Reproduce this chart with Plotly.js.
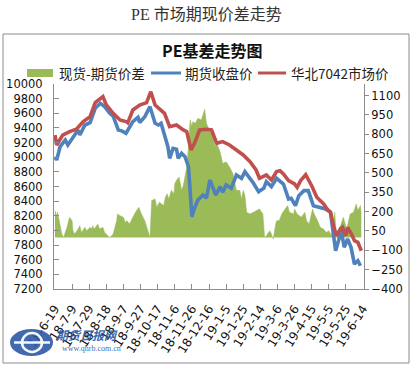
<!DOCTYPE html>
<html>
<head>
<meta charset="utf-8">
<script src="https://cdn.plot.ly/plotly-3.0.1.min.js"></script>
<style>
html,body{margin:0;padding:0;background:#fff;}
#chart{width:413px;height:365px;}
</style>
</head>
<body>
<div id="chart"></div>
<script>
// ---------- data ----------
const tickDates = ['2018-06-19','2018-07-09','2018-07-29','2018-08-18','2018-09-07','2018-09-27','2018-10-17','2018-11-06','2018-11-26','2018-12-16','2019-01-05','2019-01-25','2019-02-14','2019-03-06','2019-03-26','2019-04-15','2019-05-05','2019-05-25','2019-06-14'];
const tickLabels = ['18-6-19','18-7-9','18-7-29','18-8-18','18-9-7','18-9-27','18-10-17','18-11-6','18-11-26','18-12-16','19-1-5','19-1-25','19-2-14','19-3-6','19-3-26','19-4-15','19-5-5','19-5-25','19-6-14'];

// 华北7042市场价
const spotDates = ['2018-06-19','2018-06-21','2018-06-28','2018-07-06','2018-07-14','2018-07-22','2018-07-30','2018-08-05','2018-08-14','2018-08-18','2018-08-26','2018-09-03','2018-09-10','2018-09-12','2018-09-18','2018-09-26','2018-10-04','2018-10-09','2018-10-14','2018-10-21','2018-10-25','2018-10-31','2018-11-08','2018-11-16','2018-11-20','2018-11-25','2018-11-29','2018-12-05','2018-12-13','2018-12-19','2018-12-25','2019-01-01','2019-01-09','2019-01-17','2019-01-25','2019-02-02','2019-02-09','2019-02-13','2019-02-21','2019-02-27','2019-03-05','2019-03-09','2019-03-13','2019-03-19','2019-03-26','2019-03-29','2019-04-02','2019-04-08','2019-04-11','2019-04-15','2019-04-21','2019-04-29','2019-05-03','2019-05-07','2019-05-11','2019-05-14','2019-05-17','2019-05-21','2019-05-25','2019-05-27','2019-05-31','2019-06-04','2019-06-08','2019-06-12'];
const spotValues = [9304,9167,9303,9349,9381,9486,9554,9745,9827,9713,9600,9509,9486,9470,9645,9713,9745,9895,9713,9645,9600,9417,9440,9372,9349,9099,9190,9372,9381,9372,9190,9213,9167,9099,9031,8939,8826,8712,8757,8689,8803,8816,8771,8680,8634,8589,8680,8761,8703,8611,8453,8361,8293,8248,8043,7928,7990,8043,7928,8043,7960,7860,7838,7723];

// 期货收盘价
const futDates = ['2018-06-19','2018-06-21','2018-06-25','2018-07-01','2018-07-04','2018-07-10','2018-07-16','2018-07-18','2018-07-24','2018-07-30','2018-08-05','2018-08-11','2018-08-16','2018-08-22','2018-08-26','2018-09-01','2018-09-05','2018-09-10','2018-09-13','2018-09-18','2018-09-24','2018-09-26','2018-10-02','2018-10-08','2018-10-14','2018-10-18','2018-10-21','2018-10-25','2018-10-29','2018-10-31','2018-11-04','2018-11-08','2018-11-10','2018-11-14','2018-11-18','2018-11-22','2018-11-24','2018-11-26','2018-11-29','2018-12-03','2018-12-09','2018-12-13','2018-12-17','2018-12-20','2018-12-24','2018-12-29','2019-01-01','2019-01-05','2019-01-11','2019-01-17','2019-01-23','2019-01-27','2019-01-31','2019-02-06','2019-02-12','2019-02-18','2019-02-21','2019-02-27','2019-03-05','2019-03-07','2019-03-13','2019-03-19','2019-03-22','2019-03-27','2019-03-31','2019-04-06','2019-04-11','2019-04-17','2019-04-25','2019-05-01','2019-05-07','2019-05-11','2019-05-13','2019-05-17','2019-05-19','2019-05-23','2019-05-27','2019-05-31','2019-06-04','2019-06-08','2019-06-11'];
const futValues = [9008,8962,9144,9235,9167,9281,9372,9303,9440,9472,9668,9736,9690,9600,9560,9372,9360,9327,9395,9486,9545,9475,9554,9690,9463,9440,9463,9281,9144,8985,9121,9110,8985,9053,9008,8871,8598,8188,8302,8416,8484,8439,8689,8600,8484,8598,8520,8621,8575,8757,8712,8803,8740,8644,8530,8575,8666,8598,8712,8689,8634,8429,8439,8338,8474,8543,8543,8338,8316,8293,8248,7906,7723,7883,8043,7770,7883,7770,7541,7587,7518];

// 现货-期货价差
const basisDates = ['2018-06-19','2018-06-21','2018-06-22','2018-06-25','2018-06-27','2018-06-29','2018-07-03','2018-07-06','2018-07-09','2018-07-10','2018-07-12','2018-07-16','2018-07-18','2018-07-20','2018-07-24','2018-07-26','2018-07-30','2018-08-01','2018-08-02','2018-08-04','2018-08-08','2018-08-10','2018-08-14','2018-08-16','2018-08-18','2018-08-20','2018-08-22','2018-08-24','2018-08-26','2018-08-30','2018-08-31','2018-09-03','2018-09-07','2018-09-09','2018-09-11','2018-09-14','2018-09-18','2018-09-21','2018-09-25','2018-09-28','2018-10-02','2018-10-06','2018-10-08','2018-10-10','2018-10-14','2018-10-16','2018-10-19','2018-10-24','2018-10-26','2018-10-28','2018-10-30','2018-11-02','2018-11-05','2018-11-06','2018-11-08','2018-11-11','2018-11-14','2018-11-16','2018-11-20','2018-11-22','2018-11-24','2018-11-26','2018-11-27','2018-11-30','2018-12-03','2018-12-07','2018-12-09','2018-12-11','2018-12-13','2018-12-15','2018-12-17','2018-12-20','2018-12-23','2018-12-25','2018-12-29','2019-01-01','2019-01-05','2019-01-09','2019-01-11','2019-01-13','2019-01-17','2019-01-21','2019-01-23','2019-01-25','2019-01-27','2019-01-29','2019-02-02','2019-02-06','2019-02-09','2019-02-13','2019-02-17','2019-02-19','2019-02-21','2019-02-25','2019-02-27','2019-03-01','2019-03-04','2019-03-05','2019-03-08','2019-03-11','2019-03-15','2019-03-18','2019-03-20','2019-03-25','2019-03-26','2019-03-29','2019-04-03','2019-04-07','2019-04-09','2019-04-12','2019-04-16','2019-04-18','2019-04-21','2019-04-25','2019-04-29','2019-05-02','2019-05-05','2019-05-08','2019-05-12','2019-05-14','2019-05-16','2019-05-20','2019-05-22','2019-05-26','2019-05-30','2019-06-03','2019-06-06','2019-06-08','2019-06-11','2019-06-12'];
const basisValues = [208,169,195,104,26,0,78,156,130,52,26,65,91,39,78,52,78,65,91,65,104,65,78,39,26,13,0,13,26,130,182,169,156,117,130,104,156,195,234,182,130,52,0,286,299,234,273,247,312,339,299,365,339,417,443,469,365,404,547,703,911,859,898,885,924,911,963,995,885,859,820,807,703,729,664,573,586,547,521,495,365,365,299,365,326,195,182,195,208,221,182,0,13,52,26,-13,104,130,130,182,221,247,195,182,221,182,156,195,130,104,221,182,143,78,65,39,52,13,195,0,39,130,156,65,182,195,260,208,247,178];

const priceTicks = [7200,7400,7600,7800,8000,8200,8400,8600,8800,9000,9200,9400,9600,9800,10000];
const basisTicks = [-400,-250,-100,50,200,350,500,650,800,950,1100];

const seriesNames = ['现货-期货价差','期货收盘价','华北7042市场价'];
const seriesColors = ['#9bbb59','#4f81bd','#c0504d'];

// ---------- geometry helpers (pixel -> paper) ----------
const W = 413, H = 365;
const M = {l:54, r:49, t:84, b:76};
const PW = W - M.l - M.r, PH = H - M.t - M.b;
const px = x => (x - M.l) / PW;
const py = y => (H - M.b - y) / PH;

const CJK = '"Noto Sans CJK SC", "DejaVu Sans", sans-serif';
const NUM = '"DejaVu Sans", "Noto Sans CJK SC", sans-serif';

const traces = [
  {x: basisDates, y: basisValues, type: 'scatter', mode: 'lines', fill: 'tozeroy',
   fillcolor: seriesColors[0], line: {color: seriesColors[0], width: 0.5},
   yaxis: 'y', name: seriesNames[0], hoverinfo: 'skip'},
  {x: futDates, y: futValues, type: 'scatter', mode: 'lines',
   line: {color: seriesColors[1], width: 3.6}, yaxis: 'y2', name: seriesNames[1]},
  {x: spotDates, y: spotValues, type: 'scatter', mode: 'lines',
   line: {color: seriesColors[2], width: 3.6}, yaxis: 'y2', name: seriesNames[2]}
];

const shapes = [
  // outer chart border
  {type:'rect', xref:'paper', yref:'paper', x0:px(3), x1:px(409), y0:py(34), y1:py(363),
   line:{color:'#8c8c8c', width:1}, fillcolor:'rgba(0,0,0,0)', layer:'below'},
  // legend symbols
  {type:'rect', xref:'paper', yref:'paper', x0:px(27), x1:px(53), y0:py(77), y1:py(69),
   line:{width:0}, fillcolor:seriesColors[0]},
  {type:'line', xref:'paper', yref:'paper', x0:px(151), x1:px(181), y0:py(73), y1:py(73),
   line:{color:seriesColors[1], width:3}},
  {type:'line', xref:'paper', yref:'paper', x0:px(258), x1:px(286), y0:py(73), y1:py(73),
   line:{color:seriesColors[2], width:3}},
  // watermark logo
  {type:'circle', xref:'paper', yref:'paper', x0:px(10), x1:px(53), y0:py(356), y1:py(329),
   line:{width:0}, fillcolor:'rgba(38,84,165,0.88)'},
  {type:'circle', xref:'paper', yref:'paper', x0:px(22), x1:px(42), y0:py(352), y1:py(333),
   line:{color:'rgba(255,255,255,0.95)', width:2.5}, fillcolor:'rgba(0,0,0,0)'},
  {type:'line', xref:'paper', yref:'paper', x0:px(14), x1:px(50), y0:py(342.5), y1:py(342.5),
   line:{color:'rgba(255,255,255,0.95)', width:2.5}}
];

const annotations = [
  {text:'PE 市场期现价差走势', xref:'paper', yref:'paper', x:px(206), y:py(15),
   xanchor:'center', yanchor:'middle', showarrow:false,
   font:{family:'"Liberation Serif", "Noto Sans CJK SC", serif', size:16, color:'#333'}},
  {text:'<b>PE基差走势图</b>', xref:'paper', yref:'paper', x:px(212), y:py(50),
   xanchor:'center', yanchor:'middle', showarrow:false,
   font:{family:CJK, size:16, color:'#111'}},
  {text:seriesNames[0], xref:'paper', yref:'paper', x:px(57), y:py(73),
   xanchor:'left', yanchor:'middle', showarrow:false, font:{family:CJK, size:13.5, color:'#222'}},
  {text:seriesNames[1], xref:'paper', yref:'paper', x:px(183), y:py(73),
   xanchor:'left', yanchor:'middle', showarrow:false, font:{family:CJK, size:13.5, color:'#222'}},
  {text:seriesNames[2], xref:'paper', yref:'paper', x:px(289), y:py(73),
   xanchor:'left', yanchor:'middle', showarrow:false, font:{family:CJK, size:13.5, color:'#222'}},
  // watermark text
  {text:'<b><i>期货日报网</i></b>', xref:'paper', yref:'paper', x:px(54), y:py(334),
   xanchor:'left', yanchor:'middle', showarrow:false, font:{family:CJK, size:12, color:'rgba(38,84,165,0.9)'}},
  {text:'www.qhrb.com.cn', xref:'paper', yref:'paper', x:px(60), y:py(348),
   xanchor:'left', yanchor:'middle', showarrow:false, font:{family:'"Liberation Serif", serif', size:8, color:'rgba(38,84,165,0.9)'}}
];

const layout = {
  width: W, height: H,
  margin: {l:M.l, r:M.r, t:M.t, b:M.b, pad:0},
  paper_bgcolor: '#fff', plot_bgcolor: '#fff',
  showlegend: false,
  xaxis: {
    type:'date', range:['2018-06-17 20:00','2019-06-15 04:00'],
    tickmode:'array', tickvals:tickDates, ticktext:tickLabels, tickangle:-57,
    ticks:'inside', ticklen:5, tickcolor:'#8c8c8c', showline:true, linecolor:'#8c8c8c', linewidth:1,
    showgrid:false, zeroline:false, ticklabelstandoff:7, tickfont:{family:NUM, size:12, color:'#111'}
  },
  yaxis: {
    side:'right', range:[-400,1190], tickmode:'array', tickvals:basisTicks, tickformat:'d',
    ticks:'outside', ticklen:4, tickcolor:'#8c8c8c', showline:true, linecolor:'#8c8c8c', linewidth:1,
    showgrid:false, zeroline:false, tickfont:{family:NUM, size:11.5, color:'#111'}
  },
  yaxis2: {
    side:'left', overlaying:'y', range:[7200,10000], tickmode:'array', tickvals:priceTicks, tickformat:'d',
    ticks:'inside', ticklen:5, tickcolor:'#8c8c8c', showline:true, linecolor:'#8c8c8c', linewidth:1,
    showgrid:false, zeroline:false, ticklabelstandoff:8, tickfont:{family:NUM, size:11.5, color:'#111'}
  },
  shapes: shapes,
  annotations: annotations
};

Plotly.newPlot('chart', traces, layout, {staticPlot:true, displayModeBar:false});
</script>
</body>
</html>
